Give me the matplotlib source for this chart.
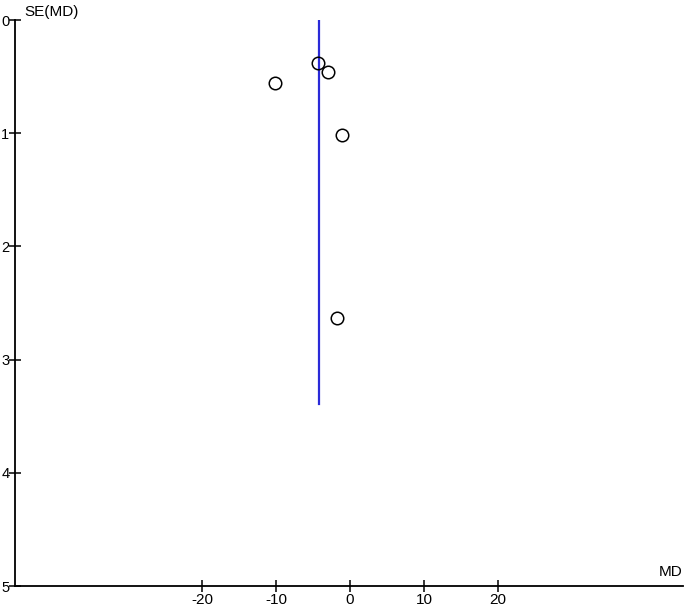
import numpy as np
import matplotlib.pyplot as plt

md = [-4.3, -3.0, -10.1, -1.1, -1.8]
se_md = [0.38, 0.46, 0.56, 1.02, 2.63]
pooled_md = -4.2
line_se_max = 3.39
x_ticks = [-20, -10, 0, 10, 20]
y_ticks = [0, 1, 2, 3, 4, 5]

plt.rcParams['font.family'] = ['Liberation Sans Narrow', 'Liberation Sans', 'DejaVu Sans']
plt.rcParams['axes.unicode_minus'] = False

fig = plt.figure(figsize=(6.85, 6.12), dpi=100)
ax = fig.add_axes([15/685, 26/612, 668/685, 566/612])

ax.plot([pooled_md, pooled_md], [0, line_se_max], color='#2a2ad8', lw=1.6)
ax.plot(md, se_md, 'o', mfc='none', mec='black', ms=9, mew=1.1)

ax.set_xlim(-45.3, 45)
ax.set_ylim(5, 0)
ax.set_xticks(x_ticks)
ax.set_yticks(y_ticks)
ax.spines['top'].set_visible(False)
ax.spines['right'].set_visible(False)
for s in ['left', 'bottom']:
    ax.spines[s].set_linewidth(1.3)
ax.tick_params(direction='inout', length=8, width=1.1, labelsize=11, pad=1)
ax.tick_params(axis='y', pad=0, labelsize=10.5)

fig.text(24/685, 1 - 12/612, 'SE(MD)', fontsize=11, va='center', ha='left')
fig.text(683/685, 1 - 572/612, 'MD', fontsize=11, va='center', ha='right')

fig.savefig('out.png', dpi=100)
